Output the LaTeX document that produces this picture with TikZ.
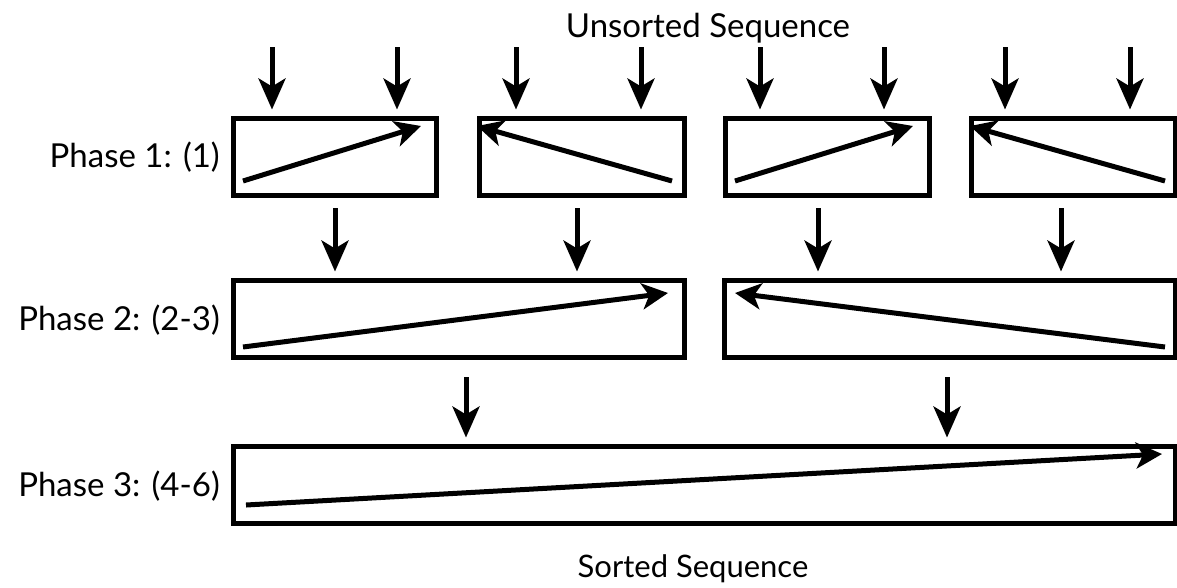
\documentclass[tikz,border=0pt]{standalone}
\usepackage{fontspec}
\setmainfont{Lato}
\usetikzlibrary{arrows.meta,calc}
\begin{document}
\begin{tikzpicture}[x=1pt,y=-1pt,
  runbox/.style={draw,line width=5pt,anchor=north west,inner sep=0pt,minimum height=77pt},
  flow/.style={line width=5pt,-{Stealth[length=26pt,width=26pt,inset=7pt]}},
  feed/.style={line width=5pt,-{Stealth[length=31pt,width=27pt,inset=8pt]},shorten >=6pt},
  lbl/.style={font=\fontsize{33}{38}\selectfont,inner sep=0pt},
  lblsmall/.style={font=\fontsize{31}{36}\selectfont,inner sep=0pt}]
\useasboundingbox (0,0) rectangle (1177,587);

% Phase 1 runs
\node[runbox,minimum width=203pt] (a1) at (230.5,115.5) {};
\node[runbox,minimum width=205pt] (a2) at (476.5,115.5) {};
\node[runbox,minimum width=204pt] (a3) at (722.5,115.5) {};
\node[runbox,minimum width=204pt] (a4) at (968.5,115.5) {};
% Phase 2 runs
\node[runbox,minimum width=451pt] (b1) at (230.5,277.5) {};
\node[runbox,minimum width=451pt] (b2) at (721.5,277.5) {};
% Phase 3 run
\node[runbox,minimum width=942pt] (c1) at (230.5,443.5) {};

% labels
\node[lbl,anchor=base] (top) at (708,37) {Unsorted Sequence};
\node[lblsmall,anchor=base] (bot) at (693,577) {Sorted Sequence};
\node[lbl,anchor=base east] (l1) at (220,167) {Phase 1: (1)};
\node[lbl,anchor=base east] (l2) at (220,330) {Phase 2: (2-3)};
\node[lbl,anchor=base east] (l3) at (220,496) {Phase 3: (4-6)};

% inputs of phase 1
\foreach \x [count=\i] in {272,397,516,641,760,884,1005,1130}{
  \coordinate (f\i) at (\x,47);
}
\foreach \i/\b in {1/a1,2/a1,3/a2,4/a2,5/a3,6/a3,7/a4,8/a4}{
  \draw[feed] (f\i) -- (f\i |- \b.north);
}
% inputs of phase 2
\foreach \x [count=\i] in {335,577,818,1061}{
  \coordinate (g\i) at (\x,208);
}
\foreach \i/\b in {1/b1,2/b1,3/b2,4/b2}{
  \draw[feed] (g\i) -- (g\i |- \b.north);
}
% inputs of phase 3
\coordinate (h1) at (466,377);
\coordinate (h2) at (947,377);
\draw[feed] (h1) -- (h1 |- c1.north);
\draw[feed] (h2) -- (h2 |- c1.north);

% sort direction inside each run
\coordinate (a1s) at (243,181); \coordinate (a1e) at (421,126);
\coordinate (a2s) at (672,181); \coordinate (a2e) at (477,126);
\coordinate (a3s) at (735,181); \coordinate (a3e) at (913,126);
\coordinate (a4s) at (1165,181); \coordinate (a4e) at (970,126);
\coordinate (b1s) at (243,347); \coordinate (b1e) at (668,293);
\coordinate (b2s) at (1165,347); \coordinate (b2e) at (735,293);
\coordinate (c1s) at (246,505); \coordinate (c1e) at (1162,454);
\foreach \r in {a1,a2,a3,a4,b1,b2,c1}{
  \draw[flow] (\r s) -- (\r e);
}
\end{tikzpicture}
\end{document}
